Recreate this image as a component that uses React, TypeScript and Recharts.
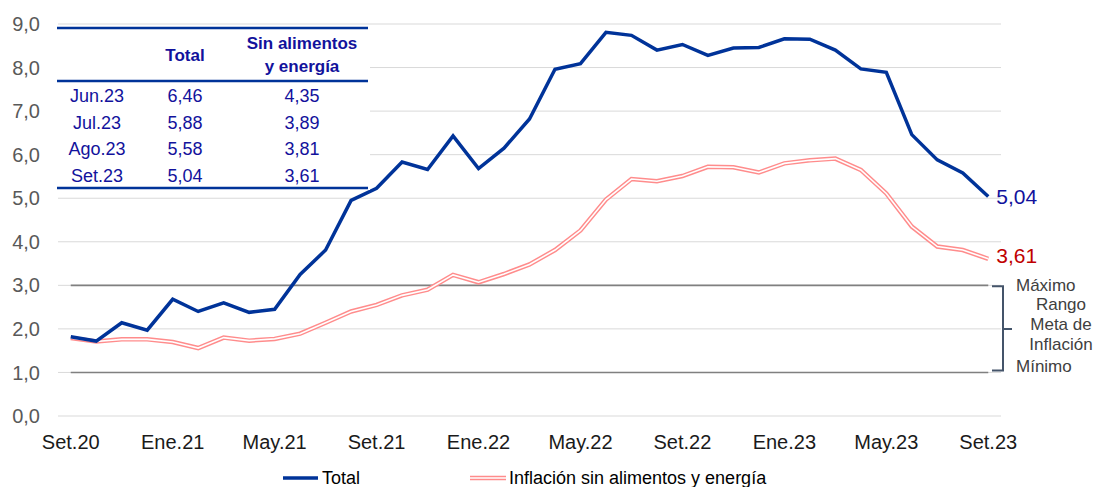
import {
  LineChart,
  Line,
  XAxis,
  YAxis,
  CartesianGrid,
  Legend,
  ReferenceLine,
  ReferenceArea,
  LabelList,
} from "recharts";

const months = [
  "Set.20", "Oct.20", "Nov.20", "Dic.20",
  "Ene.21", "Feb.21", "Mar.21", "Abr.21", "May.21", "Jun.21",
  "Jul.21", "Ago.21", "Set.21", "Oct.21", "Nov.21", "Dic.21",
  "Ene.22", "Feb.22", "Mar.22", "Abr.22", "May.22", "Jun.22",
  "Jul.22", "Ago.22", "Set.22", "Oct.22", "Nov.22", "Dic.22",
  "Ene.23", "Feb.23", "Mar.23", "Abr.23", "May.23", "Jun.23",
  "Jul.23", "Ago.23", "Set.23",
];

const total = [
  1.82, 1.72, 2.14, 1.97,
  2.68, 2.4, 2.6, 2.38, 2.45, 3.25, 3.81, 4.95, 5.23, 5.83, 5.66, 6.43,
  5.68, 6.15, 6.82, 7.96, 8.09, 8.81, 8.74, 8.4, 8.53, 8.28, 8.45, 8.46,
  8.66, 8.65, 8.4, 7.97, 7.89, 6.46, 5.88, 5.58, 5.04,
];

const core = [
  1.79, 1.71, 1.76, 1.76,
  1.7, 1.56, 1.8, 1.73, 1.77, 1.89, 2.14, 2.4, 2.55, 2.77, 2.9, 3.24,
  3.07, 3.26, 3.48, 3.81, 4.26, 4.97, 5.44, 5.39, 5.51, 5.72, 5.71, 5.59,
  5.8, 5.87, 5.91, 5.65, 5.11, 4.35, 3.89, 3.81, 3.61,
];

const yTicks = [0, 1, 2, 3, 4, 5, 6, 7, 8, 9];

const tableMonths = ["Jun.23", "Jul.23", "Ago.23", "Set.23"];
const tableTotal = [6.46, 5.88, 5.58, 5.04];
const tableCore = [4.35, 3.89, 3.81, 3.61];

const rangeLabels = ["Máximo", "Rango", "Meta de", "Inflación", "Mínimo"];

const data = months.map((m, i) => ({ month: m, total: total[i], core: core[i] }));

const FONT = '"Liberation Sans", Arial, sans-serif';
const BLUE = "#003399";
const PINK = "#ff8c8c";
const TABLE_BLUE = "#12129c";
const RED = "#c00000";
const X_PAD = 12.75;

const fmt = (v: number, d = 2) => v.toFixed(d).replace(".", ",");

const endLabel = (color: string, dy: number) => (props: any) => {
  if (props.index !== months.length - 1) return null;
  const x = props.x ?? props.viewBox?.x;
  const y = props.y ?? props.viewBox?.y;
  return (
    <text x={x + 8} y={y + dy} fill={color} fontSize={21}>
      {fmt(Number(props.value))}
    </text>
  );
};

// "}" bracket for the target range, drawn next to the 1-3 band
function RangeBracket(props: any) {
  const { x, y, width, height } = props;
  const r = x + width + X_PAD; // right edge of the plot area
  const top = y + 1;
  const bot = y + height - 2;
  const mid = y + height / 2;
  const offsets = [6, 25, 45, 65, 87];
  return (
    <g>
      <path
        d={`M${r - 9},${top} H${r + 2} V${bot} H${r - 9} M${r + 2},${mid} H${r + 11}`}
        fill="none"
        stroke="#44546a"
        strokeWidth={2}
      />
      {rangeLabels.map((t, i) => {
        const edge = i === 0 || i === 4;
        return (
          <text
            key={t}
            x={edge ? r + 15 : r + 60}
            y={y + offsets[i]}
            textAnchor={edge ? "start" : "middle"}
            fontSize={17}
            fill="#404040"
          >
            {t}
          </text>
        );
      })}
    </g>
  );
}

function ChartLegend() {
  return (
    <div style={{ height: 31, position: "relative" }}>
      <svg width={1001} height={31} style={{ position: "absolute", left: 0, top: 0 }}>
        <line x1={283} x2={318} y1={22} y2={22} stroke={BLUE} strokeWidth={3.5} />
        <text x={322} y={28} fontSize={18} fill="#000">Total</text>
        <line x1={470} x2={506} y1={22} y2={22} stroke={PINK} strokeWidth={4.5} />
        <line x1={470} x2={506} y1={22} y2={22} stroke="#fff" strokeWidth={1.6} />
        <text x={509} y={28} fontSize={18} fill="#000">
          Inflación sin alimentos y energía
        </text>
      </svg>
    </div>
  );
}

function SummaryTable() {
  const rowY = [102, 129, 155, 182];
  return (
    <svg
      width={380}
      height={200}
      style={{ position: "absolute", left: 0, top: 0, pointerEvents: "none" }}
    >
      <rect x={56} y={26} width={314} height={164} fill="#fff" />
      <line x1={57} x2={368} y1={28} y2={28} stroke={BLUE} strokeWidth={2.3} />
      <line x1={57} x2={368} y1={81} y2={81} stroke={BLUE} strokeWidth={2.3} />
      <line x1={57} x2={368} y1={188} y2={188} stroke={BLUE} strokeWidth={2.3} />
      <g fill={TABLE_BLUE} fontWeight="bold" fontSize={17} textAnchor="middle">
        <text x={185} y={61}>Total</text>
        <text x={302} y={49}>Sin alimentos</text>
        <text x={302} y={72}>y energía</text>
      </g>
      <g fill={TABLE_BLUE} fontSize={18} textAnchor="middle">
        {tableMonths.map((m, i) => (
          <g key={m}>
            <text x={97} y={rowY[i]}>{m}</text>
            <text x={185} y={rowY[i]}>{fmt(tableTotal[i])}</text>
            <text x={302} y={rowY[i]}>{fmt(tableCore[i])}</text>
          </g>
        ))}
      </g>
    </svg>
  );
}

export default function App() {
  const first = months[0];
  const last = months[months.length - 1];
  return (
    <div
      style={{
        position: "absolute",
        left: 0,
        top: 0,
        width: 1096,
        height: 487,
        background: "#fff",
        fontFamily: FONT,
      }}
    >
      <LineChart
        width={1096}
        height={487}
        data={data}
        margin={{ top: 24, right: 95, left: 0, bottom: 0 }}
      >
        <CartesianGrid stroke="#d9d9d9" vertical={false} />
        <XAxis
          dataKey="month"
          interval={3}
          height={40}
          axisLine={false}
          tickLine={false}
          tickMargin={13}
          padding={{ left: X_PAD, right: X_PAD }}
          tick={{ fill: "#1a1a1a", fontSize: 20 }}
        />
        <YAxis
          width={58}
          domain={[0, 9]}
          ticks={yTicks}
          axisLine={false}
          tickLine={false}
          tickMargin={12}
          tickFormatter={(v: number) => fmt(v, 1)}
          tick={{ fill: "#595959", fontSize: 20 }}
        />
        <ReferenceArea y1={1} y2={3} shape={<RangeBracket />} />
        <ReferenceLine
          segment={[{ x: first, y: 3 }, { x: last, y: 3 }]}
          stroke="#808080"
          strokeWidth={1.6}
        />
        <ReferenceLine
          segment={[{ x: first, y: 1 }, { x: last, y: 1 }]}
          stroke="#808080"
          strokeWidth={1.6}
        />
        <Legend verticalAlign="bottom" content={<ChartLegend />} />
        <Line
          dataKey="core"
          name="Inflación sin alimentos y energía"
          stroke={PINK}
          strokeWidth={4.5}
          dot={false}
          isAnimationActive={false}
        >
          <LabelList dataKey="core" content={endLabel(RED, 4)} />
        </Line>
        <Line
          dataKey="core"
          legendType="none"
          stroke="#fff"
          strokeWidth={1.6}
          dot={false}
          isAnimationActive={false}
        />
        <Line
          dataKey="total"
          name="Total"
          stroke={BLUE}
          strokeWidth={3.5}
          dot={false}
          isAnimationActive={false}
        >
          <LabelList dataKey="total" content={endLabel(TABLE_BLUE, 8)} />
        </Line>
      </LineChart>
      <SummaryTable />
    </div>
  );
}
